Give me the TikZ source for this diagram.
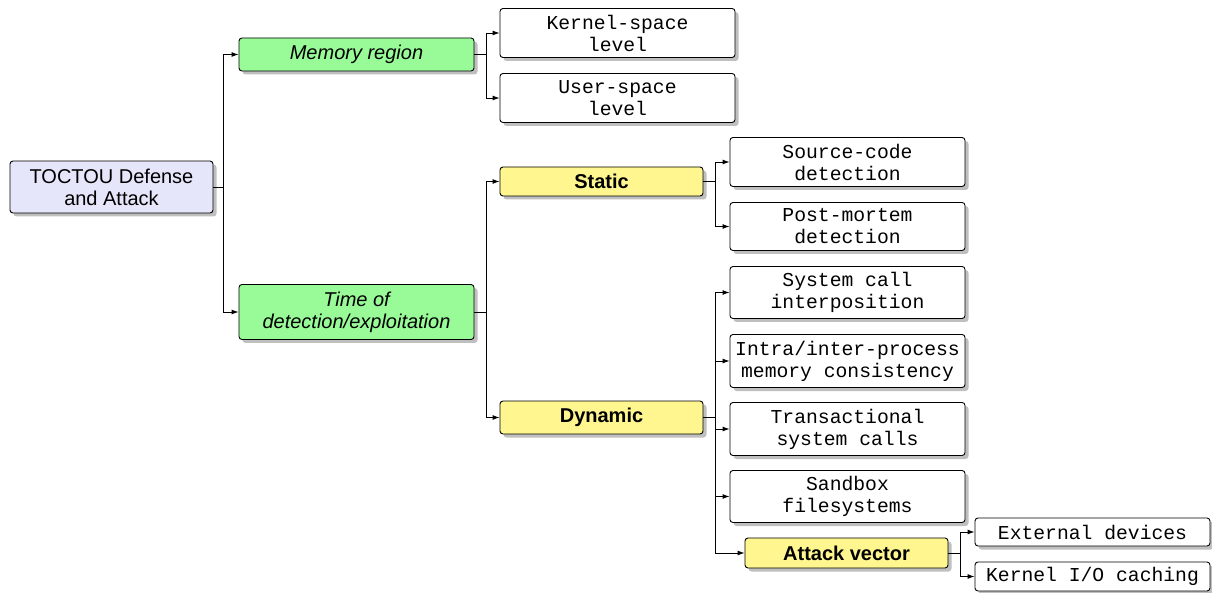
\documentclass[tikz,border=0pt]{standalone}
\usepackage{fontspec}
\setmainfont{Liberation Sans}
\setmonofont{Liberation Mono}
\usetikzlibrary{shadows,arrows.meta}
\definecolor{rootc}{HTML}{E6E6FA}
\definecolor{greenc}{HTML}{98FB98}
\definecolor{yellc}{HTML}{FFF68F}
\tikzset{
  base/.style={draw=black, line width=0.9pt, rounded corners=3pt, align=center,
    inner sep=0pt, font=\fontsize{20}{22}\selectfont,
    drop shadow={shadow xshift=3.5pt, shadow yshift=-3.5pt, fill=black, opacity=0.25}},
  rootbox/.style={base, fill=rootc},
  catbox/.style={base, fill=greenc, font=\fontsize{20}{22}\selectfont\itshape},
  subbox/.style={base, fill=yellc, font=\fontsize{20}{22}\selectfont\bfseries},
  leafbox/.style={base, fill=white, font=\fontsize{19.7}{22}\selectfont\ttfamily},
  conn/.style={line width=0.9pt, -{Latex[length=7pt,width=5pt]}},
}
\begin{document}
\begin{tikzpicture}[x=1pt,y=-1pt]
\useasboundingbox (0,0) rectangle (1212,593);
\node[rootbox, minimum width=203pt, minimum height=52pt] (root) at (111.5,187) {TOCTOU Defense\\and Attack};
\node[catbox, minimum width=235pt, minimum height=33pt] (mem) at (356.5,54.5) {Memory region};
\node[catbox, minimum width=235pt, minimum height=55pt] (time) at (356.5,312) {Time of\\detection/exploitation};
\node[leafbox, minimum width=235pt, minimum height=49pt] (kern) at (617.5,33) {Kernel-space\\level};
\node[leafbox, minimum width=235pt, minimum height=49pt] (user) at (617.5,98) {User-space\\level};
\node[subbox, minimum width=203pt, minimum height=29pt] (static) at (601.5,181.5) {Static};
\node[subbox, minimum width=203pt, minimum height=33pt] (dyn) at (601.5,417.5) {Dynamic};
\node[leafbox, minimum width=235pt, minimum height=49pt] (src) at (847.5,162) {Source-code\\detection};
\node[leafbox, minimum width=235pt, minimum height=48pt] (post) at (847.5,226.5) {Post-mortem\\detection};
\node[leafbox, minimum width=235pt, minimum height=52pt] (sysc) at (847.5,292.5) {System call\\interposition};
\node[leafbox, minimum width=235pt, minimum height=53pt] (intra) at (847.5,361) {Intra/inter-process\\memory consistency};
\node[leafbox, minimum width=235pt, minimum height=53pt] (trans) at (847.5,429) {Transactional\\system calls};
\node[leafbox, minimum width=235pt, minimum height=52pt] (sand) at (847.5,496.5) {Sandbox\\filesystems};
\node[subbox, minimum width=203pt, minimum height=30pt] (atk) at (846.5,553) {Attack vector};
\node[leafbox, minimum width=235pt, minimum height=28pt] (ext) at (1092.5,532) {External devices};
\node[leafbox, minimum width=235pt, minimum height=29pt] (kio) at (1092.5,576.5) {Kernel I/O caching};

\foreach \c in {mem,time} \draw[conn] (root.east) -- ++(10,0) |- (\c.west);
\foreach \c in {kern,user} \draw[conn] (mem.east) -- ++(12,0) |- (\c.west);
\foreach \c in {static,dyn} \draw[conn] (time.east) -- ++(12,0) |- (\c.west);
\foreach \c in {src,post} \draw[conn] (static.east) -- ++(12,0) |- (\c.west);
\foreach \c in {sysc,intra,trans,sand,atk} \draw[conn] (dyn.east) -- ++(12,0) |- (\c.west);
\foreach \c in {ext,kio} \draw[conn] (atk.east) -- ++(12,0) |- (\c.west);
\end{tikzpicture}
\end{document}
